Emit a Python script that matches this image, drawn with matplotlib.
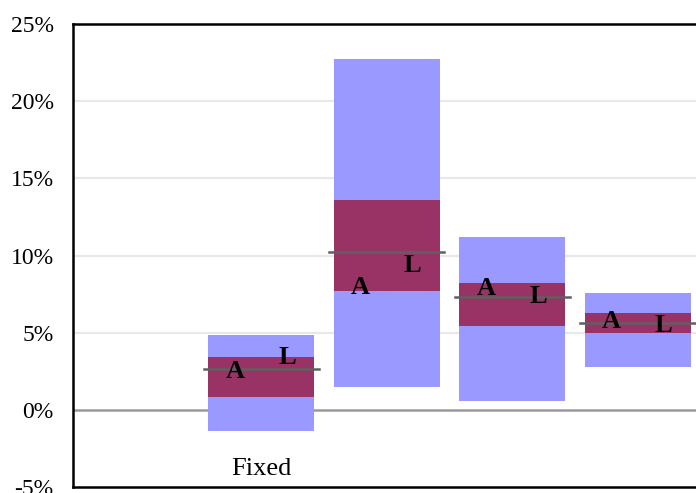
import matplotlib
matplotlib.use("Agg")
import matplotlib.pyplot as plt
import numpy as np

# values in percent
categories = ["", "Fixed", "", "", ""]
bar_pos = [1, 2, 3, 4]
range_low = [-1.35, 1.5, 0.6, 2.8]
range_high = [4.85, 22.7, 11.2, 7.6]
band_low = [0.85, 7.7, 5.4, 5.0]
band_high = [3.45, 13.6, 8.25, 6.3]
mid_line = [2.65, 10.2, 7.3, 5.65]
a_vals = [2.5, 7.9, 7.85, 5.7]
l_vals = [3.4, 9.35, 7.35, 5.45]
yticks = [-5, 0, 5, 10, 15, 20, 25]

plt.rcParams["font.family"] = ["Liberation Serif", "DejaVu Serif"]

fig = plt.figure(figsize=(6.96, 4.93), dpi=100)
ax = fig.add_axes([73 / 696, 6 / 493, 627.5 / 696, 463 / 493])

for g in [5, 10, 15, 20]:
    ax.axhline(g, color="#e8e8e8", lw=1.6, zorder=0)
ax.axhline(0, color="#999999", lw=1.8, zorder=1)

w = 0.845
for i, x in enumerate(bar_pos):
    ax.bar(x, range_high[i] - range_low[i], bottom=range_low[i], width=w,
           color="#9999ff", zorder=2)
    ax.bar(x, band_high[i] - band_low[i], bottom=band_low[i], width=w,
           color="#993366", zorder=3)
    ax.plot([x - 0.458, x + 0.458], [mid_line[i], mid_line[i]],
            color="#606060", lw=1.8, zorder=4)
    ax.text(x - 0.207, a_vals[i], "A", ha="center", va="center",
            fontsize=19, fontweight="bold", zorder=5)
    ax.text(x + 0.207, l_vals[i], "L", ha="center", va="center",
            fontsize=19, fontweight="bold", zorder=5)

ax.set_xlim(-0.5, 4.5)
ax.set_ylim(-5, 25)
ax.set_yticks(yticks)
ax.set_yticklabels([f"{t}%" for t in yticks])
ax.set_xticks(range(len(categories)))
ax.set_xticklabels(categories)
ax.tick_params(axis="both", length=0)
ax.tick_params(axis="y", pad=14, labelsize=17)
ax.tick_params(axis="x", pad=-21, labelsize=19)

for s in ax.spines.values():
    s.set_linewidth(1.8)
    s.set_color("black")

fig.savefig("out.png", dpi=100)
